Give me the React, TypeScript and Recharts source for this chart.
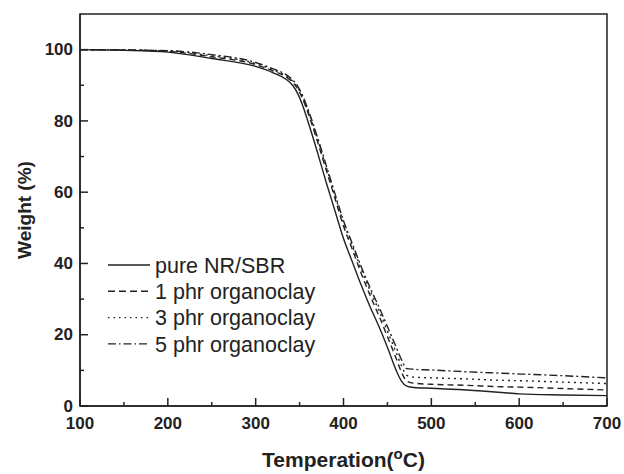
import { LineChart, Line, XAxis, YAxis, ReferenceArea, Legend } from "recharts"

// temperatures (°C) where the curves were read
const temperature = [100, 150, 200, 250, 300, 320, 335, 342, 348, 354, 360, 370, 380, 390, 400, 410, 420, 430, 440, 450, 460, 466, 472, 480, 500, 540, 580, 600, 650, 700]

// weight (%)
const pureNRSBR = [100, 99.8, 99.3, 97.5, 95.3, 93.5, 91.6, 90, 87.6, 84, 79.5, 71.5, 63, 55, 47, 40.5, 34, 28, 22.5, 16.5, 10, 7, 5.6, 5.2, 5.0, 4.5, 3.8, 3.4, 3.1, 2.9]
const phr1 = [100, 99.9, 99.5, 98, 95.8, 94, 92.3, 90.9, 88.9, 85.9, 82, 74.5, 66.5, 58.5, 50.5, 44, 37.3, 31.2, 25.5, 19.5, 13.3, 9.5, 7, 6.4, 6.1, 5.8, 5.4, 5.3, 4.9, 4.5]
const phr3 = [100, 99.9, 99.6, 98.3, 96.1, 94.3, 92.6, 91.2, 89.3, 86.4, 82.6, 75.2, 67.3, 59.3, 51.5, 45, 38.5, 32.5, 27, 21, 15, 11.3, 8.6, 8.1, 7.9, 7.6, 7.2, 7.1, 6.7, 6.3]
const phr5 = [100, 99.9, 99.7, 98.6, 96.4, 94.6, 92.9, 91.5, 89.7, 86.8, 83, 75.7, 67.8, 59.8, 52, 45.6, 39.2, 33.3, 28, 22.3, 16.5, 13, 10.5, 10.3, 10.1, 9.6, 9.2, 9.0, 8.5, 7.9]

const seriesNames = ["pure NR/SBR", "1 phr organoclay", "3 phr organoclay", "5 phr organoclay"]
const xTicks = [100, 150, 200, 250, 300, 350, 400, 450, 500, 550, 600, 650, 700]
const yTicks = [0, 10, 20, 30, 40, 50, 60, 70, 80, 90, 100]

const data = temperature.map((t, i) => ({
  t,
  s0: pureNRSBR[i],
  s1: phr1[i],
  s2: phr3[i],
  s3: phr5[i],
}))

const ink = "#222"
const font = "'Liberation Sans', Arial, sans-serif"
const dashes = ["", "6 4", "2 4", "8 3 2 3"]
const legendDashes = ["", "7 4", "1.5 4", "8 3 1.5 3"]

function XTick({ x, y, payload }: any) {
  const major = payload.value % 100 === 0
  return (
    <g>
      <line x1={x} x2={x} y1={y} y2={y - (major ? 8 : 4)} stroke={ink} strokeWidth={1.5} />
      {major && (
        <text x={x} y={y + 23} textAnchor="middle" fontFamily={font} fontWeight="bold" fontSize={17} fill={ink}>
          {payload.value}
        </text>
      )}
    </g>
  )
}

function YTick({ x, y, payload }: any) {
  const major = payload.value % 20 === 0
  return (
    <g>
      <line x1={x} x2={x + (major ? 8 : 4)} y1={y} y2={y} stroke={ink} strokeWidth={1.5} />
      {major && (
        <text x={x - 7} y={y} dy="0.33em" textAnchor="end" fontFamily={font} fontWeight="bold" fontSize={17} fill={ink}>
          {payload.value}
        </text>
      )}
    </g>
  )
}

function XTitle({ viewBox }: any) {
  const cx = viewBox.x + viewBox.width / 2
  return (
    <text x={cx} y={viewBox.y + 61} textAnchor="middle" fontFamily={font} fontWeight="bold" fontSize={21} fill={ink}>
      Temperation(
      <tspan dy={-8} fontSize={15}>o</tspan>
      <tspan dy={8}>C)</tspan>
    </text>
  )
}

function YTitle({ viewBox }: any) {
  const cy = viewBox.y + viewBox.height / 2
  const cx = viewBox.x + 24
  return (
    <text x={cx} y={cy} dy="0.36em" transform={`rotate(-90 ${cx} ${cy})`} textAnchor="middle" fontFamily={font} fontWeight="bold" fontSize={19} fill={ink}>
      Weight (%)
    </text>
  )
}

function LegendBox() {
  return (
    <svg width={280} height={110}>
      {seriesNames.map((name, i) => {
        const cy = 12 + i * 26.3
        return (
          <g key={name}>
            <line x1={0} x2={42} y1={cy} y2={cy} stroke={ink} strokeWidth={1.4} strokeDasharray={legendDashes[i]} />
            <text x={47} y={cy} dy="0.36em" fontFamily={font} fontSize={21.5} fill={ink}>
              {name}
            </text>
          </g>
        )
      })}
    </svg>
  )
}

export default function App() {
  return (
    <div style={{ position: "absolute", left: 0, top: 0, width: 624, height: 474, background: "#fff" }}>
      <LineChart width={624} height={474} data={data} margin={{ top: 14, right: 17, left: 0, bottom: 0 }}>
        <XAxis
          dataKey="t"
          type="number"
          domain={[100, 700]}
          ticks={xTicks}
          interval={0}
          height={68}
          tickSize={0}
          tickMargin={0}
          tickLine={false}
          axisLine={{ stroke: ink, strokeWidth: 1.5 }}
          tick={<XTick />}
          label={{ content: <XTitle /> }}
        />
        <YAxis
          type="number"
          domain={[0, 110]}
          ticks={yTicks}
          interval={0}
          width={80}
          tickSize={0}
          tickMargin={0}
          tickLine={false}
          axisLine={{ stroke: ink, strokeWidth: 1.5 }}
          tick={<YTick />}
          label={{ content: <YTitle /> }}
        />
        <ReferenceArea x1={100} x2={700} y1={0} y2={110} fill="none" stroke={ink} strokeWidth={1.5} ifOverflow="visible" />
        {["s0", "s1", "s2", "s3"].map((key, i) => (
          <Line
            key={key}
            dataKey={key}
            name={seriesNames[i]}
            type="monotone"
            stroke={ink}
            strokeWidth={1.4}
            strokeDasharray={dashes[i] || undefined}
            dot={false}
            activeDot={false}
            isAnimationActive={false}
          />
        ))}
        <Legend
          layout="vertical"
          align="center"
          verticalAlign="middle"
          content={<LegendBox />}
          wrapperStyle={{ left: 108, top: 253, width: 280, height: 110 }}
        />
      </LineChart>
    </div>
  )
}
